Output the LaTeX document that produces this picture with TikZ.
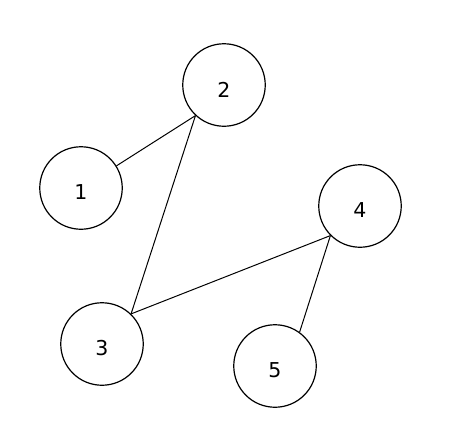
\documentclass[tikz,border=0pt]{standalone}
\usepackage{fontspec}
\setmainfont{DejaVu Sans}
\begin{document}
\begin{tikzpicture}[x=1pt,y=-1pt,
  vtx/.style={circle,draw,line width=1.2pt,minimum size=82.5pt,inner sep=0pt},
  num/.style={font=\fontsize{20.5}{22}\selectfont,yshift=-4.5pt,inner sep=0pt},
  edge/.style={line width=1pt}]
\useasboundingbox (0,0) rectangle (474,442);
\node[vtx,label={[num]center:1}] (n1) at (81,188) {};
\node[vtx,label={[num]center:2}] (n2) at (224,85) {};
\node[vtx,label={[num]center:3}] (n3) at (102,344) {};
\node[vtx,label={[num]center:4}] (n4) at (360,206) {};
\node[vtx,label={[num]center:5}] (n5) at (275,366) {};
\draw[edge] (n1.32) -- (n2.227);
\draw[edge] (n2.227) -- (n3.46);
\draw[edge] (n3.46) -- (n4.225);
\draw[edge] (n4.225) -- (n5.54);
\end{tikzpicture}
\end{document}
